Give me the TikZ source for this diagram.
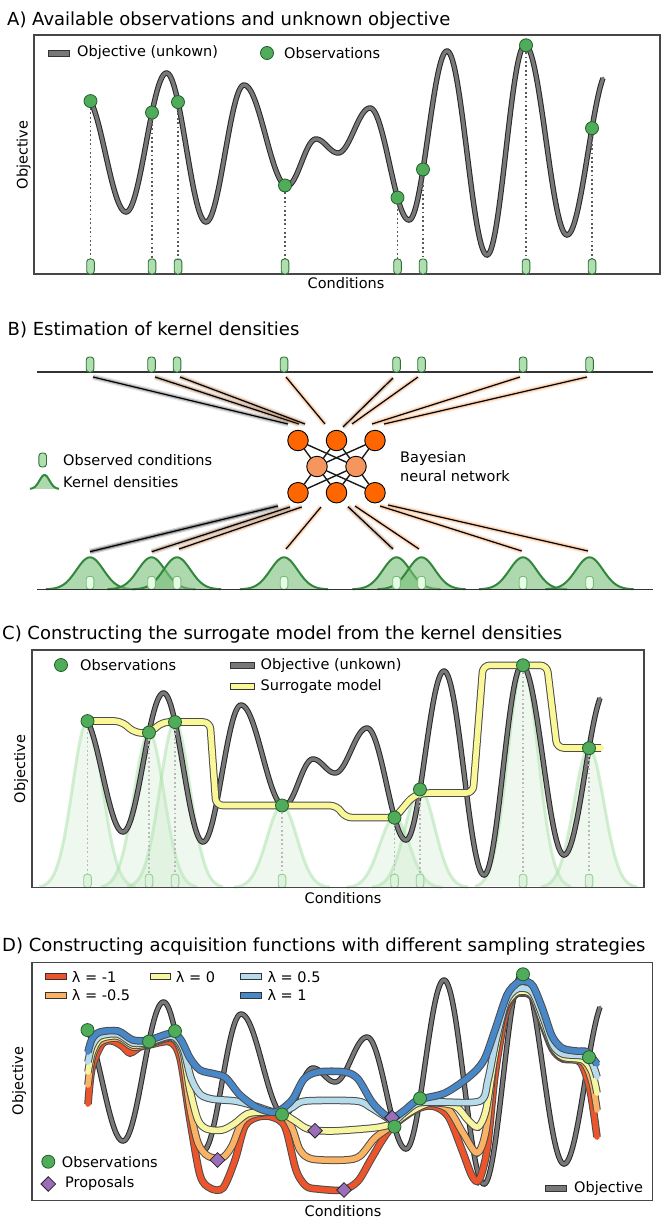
\documentclass[tikz,border=0pt]{standalone}
\usepackage{fontspec}
\setmainfont{DejaVu Sans}
\usetikzlibrary{shapes.geometric}
\definecolor{objgray}{RGB}{120,120,120}
\definecolor{obsgreen}{RGB}{80,172,90}
\definecolor{obsdark}{RGB}{30,95,40}
\definecolor{tickfill}{RGB}{175,222,175}
\definecolor{tickdraw}{RGB}{45,115,55}
\definecolor{kernfill}{RGB}{120,190,120}
\definecolor{kerndraw}{RGB}{50,135,60}
\definecolor{netorange}{RGB}{255,102,0}
\definecolor{netlight}{RGB}{245,150,95}
\definecolor{glowor}{RGB}{245,140,60}
\definecolor{surryellow}{RGB}{250,248,150}
\definecolor{acqred}{RGB}{236,84,44}
\definecolor{acqorange}{RGB}{250,178,100}
\definecolor{acqyellow}{RGB}{246,245,160}
\definecolor{acqlblue}{RGB}{182,220,235}
\definecolor{acqblue}{RGB}{72,136,200}
\definecolor{proppurple}{RGB}{155,110,185}
\definecolor{framegray}{RGB}{70,70,70}
\newcommand{\mytitlefont}{\fontsize{18}{21}\selectfont}
\newcommand{\mylabelfont}{\fontsize{14.5}{17}\selectfont}
\pgfmathdeclarefunction{cosi}{5}{\pgfmathparse{#3+(#5-#3)*(1-cos(((#1-#2)/(#4-#2))*180))/2}}
\pgfmathdeclarefunction{obj}{1}{\pgfmathparse{(#1<126)?cosi(#1,85,96,126,212):((#1<166.5)?cosi(#1,126,212,166.5,73):((#1<206)?cosi(#1,166.5,73,206,222):((#1<244)?cosi(#1,206,222,244,85):((#1<287)?cosi(#1,244,85,287,186):((#1<316)?cosi(#1,287,186,316,139):((#1<338)?cosi(#1,316,139,338,153):((#1<370)?cosi(#1,338,153,370,108):((#1<409)?cosi(#1,370,108,409,220):((#1<447)?cosi(#1,409,220,447,51):((#1<487)?cosi(#1,447,51,487,255):((#1<525)?cosi(#1,487,255,525,45):((#1<567)?cosi(#1,525,45,567,235):cosi(#1,567,235,609,70)))))))))))))}}
\newcommand{\condtick}[4]{\filldraw[#4, rounded corners=3pt] ({#1-3.8},#2) -- ({#1-3.8},{#2-#3}) -- ({#1+3.8},{#2-#3}) -- ({#1+3.8},#2) -- cycle;}
\begin{document}
\begin{tikzpicture}[x=1pt, y=-1pt,
  ttl/.style={font=\mytitlefont, anchor=west, inner sep=0pt},
  lbl/.style={font=\mylabelfont, inner sep=0pt},
  panelframe/.style={draw=framegray, line width=1.1pt},
  obj/.style={draw=objgray, line width=3.4pt, line cap=round, line join=round, preaction={draw=black!85, line width=5.4pt}},
  obs/.style={circle, fill=obsgreen, draw=obsdark, line width=0.8pt, minimum size=13pt, inner sep=0pt},
  prop/.style={diamond, fill=proppurple, draw=black!85, line width=0.8pt, minimum width=15pt, minimum height=15pt, inner sep=0pt},
  tickA/.style={fill=tickfill, draw=tickdraw, line width=0.9pt},
  tickC/.style={fill=tickfill!40, draw=gray!60!green!60, line width=0.9pt},
  tickW/.style={fill=white!90!green, draw=gray!70!green!80, line width=0.9pt},
  dotA/.style={draw=gray!70!black, line width=1.8pt, dash pattern=on 1.8pt off 2.6pt},
  dotC/.style={draw=gray!55, line width=1.8pt, dash pattern=on 1.8pt off 2.6pt},
  swatch/.style={draw=black!80, line width=0.8pt},
  acq/.style={draw=#1, line width=5.6pt, line cap=round, line join=round, preaction={draw=black!70, line width=7.6pt}},
  surr/.style={draw=surryellow, line width=5.6pt, line cap=round, line join=round, rounded corners=7pt, preaction={draw=black!70, line width=7.6pt}},
  nn/.style={circle, minimum size=20.5pt, inner sep=0pt, fill=netorange, draw=black, line width=0.9pt},
  nnl/.style={nn, fill=netlight},
  netline/.style={draw=black!90, line width=1.4pt},
  glow/.style={draw=black, line width=1.2pt, preaction={draw=#1, line width=6pt, opacity=0.15}, preaction={draw=#1, line width=3.5pt, opacity=0.3}},
  kern/.style={fill=kernfill, fill opacity=0.6, draw=kerndraw, line width=2pt},
  kernC/.style={fill=green!40!gray!30, fill opacity=0.3, draw=gray!50!green!45, line width=3pt, draw opacity=0.5}
]
\fill[white] (0,0) rectangle (666,1225);
\useasboundingbox (0,0) rectangle (666,1225);

%% ---------------- Panel A
\node[ttl] (titleA) at (7,21) {A) Available observations and unknown objective};
\draw[panelframe] (34,35) rectangle (660,274);
\draw[swatch, fill=objgray] (48,50) rectangle (69,56);
\node[lbl, anchor=west] (legA1) at (77,53) {Objective (unkown)};
\node[obs] (legA2) at (267,53) {};
\node[lbl, anchor=west] (legA3) at (284,53) {Observations};
\node[lbl, rotate=90] (ylabA) at (23.5,155) {Objective};
\node[lbl] (xlabA) at (346,283) {Conditions};
\foreach \xo [count=\i] in {90.5,152,178,285,397.5,423,526,592} {
  \condtick{\xo}{274}{15}{tickA}
  \coordinate (tA\i) at (\xo,259);
}
\draw[obj] plot[domain=90:603, samples=400] (\x,{obj(\x)});
\foreach \xo [count=\i] in {90.5,152,178,285,397.5,423,526,592} {
  \pgfmathsetmacro\yo{obj(\xo)}
  \node[obs] (oA\i) at (\xo,\yo) {};
  \draw[dotA] (oA\i) -- (tA\i);
}

%% ---------------- Panel B
\node[ttl] (titleB) at (7.5,330) {B) Estimation of kernel densities};
\draw[line width=1.2pt, gray!40!black] (37,372) -- (653,372);
\foreach \c in {90,151.5,177,284,396.5,421.5,523,589.5} {\condtick{\c}{372}{15}{tickA}}
% network
\node[nn] (n1) at (298,440.5) {};
\node[nn] (n2) at (336.5,440.5) {};
\node[nn] (n3) at (375,440.5) {};
\node[nnl] (m1) at (317,466.5) {};
\node[nnl] (m2) at (356,466.5) {};
\node[nn] (b1) at (298,492.7) {};
\node[nn] (b2) at (336.5,492.7) {};
\node[nn] (b3) at (375,492.7) {};
\foreach \t in {n1,n2,n3,b1,b2,b3} {\foreach \m in {m1,m2} {\draw[netline] (\t) -- (\m);}}
\node[lbl, anchor=west, align=left, font=\fontsize{14.5}{19.3}\selectfont] (bnn) at (400,466.5) {Bayesian\\neural network};
% lines top
\foreach \sx/\sy/\ex/\ey/\gc [count=\i] in {93/377/288/424/black!70, 155/377/299/424/glowor!60!black, 180/377/305/424/glowor!70!black, 286/377/325/424/glowor, 393/378/343/427/glowor!80!black, 418/377/352/424/glowor, 520/377/372/424/glowor, 587/377/384/424/glowor} {
  \coordinate (ls\i) at (\sx,\sy);
  \coordinate (le\i) at (\ex,\ey);
  \draw[glow=\gc] (ls\i) -- (le\i);
}
% lines bottom
\foreach \sx/\sy/\ex/\ey/\gc [count=\i] in {278/506/90/551.7/black, 290/507/151.7/551.7/glowor!50!black, 301.7/507/179/549/glowor!80!black, 321/507/286/549/glowor, 348/506.7/393/549/glowor!70!black, 355/506/419/549/glowor, 380/506/521.7/551/glowor, 388/505/588/551/glowor} {
  \coordinate (ms\i) at (\sx,\sy);
  \coordinate (me\i) at (\ex,\ey);
  \draw[glow=\gc] (ms\i) -- (me\i);
}
% legend
\condtick{42.7}{467}{14}{tickA}
\node[lbl, anchor=west] (legB1) at (63,460) {Observed conditions};
\filldraw[kern] plot[domain=30:59, samples=30] (\x,{489-14*exp(-((\x-44.5)*(\x-44.5))/50)});
\node[lbl, anchor=west] (legB2) at (63,482) {Kernel densities};
% kernels
\foreach \c in {90,151.5,177,284,396.5,421.5,523,589.5} {
  \pgfmathsetmacro\da{\c-44}
  \pgfmathsetmacro\db{\c+44}
  \filldraw[kern] plot[domain=\da:\db, samples=60] (\x,{589.3-32*exp(-((\x-\c)*(\x-\c))/365)});
}
\foreach \c in {90,151.5,177,284,396.5,421.5,523,589.5} {\condtick{\c}{589.3}{13}{tickW}}
\draw[line width=1.2pt, gray!40!black] (37,589.3) -- (653,589.3);

%% ---------------- Panel C
\node[ttl] (titleC) at (2,635) {C) Constructing the surrogate model from the kernel densities};
\node[lbl, rotate=90] (ylabC) at (21,769) {Objective};
\node[lbl] (xlabC) at (343,898) {Conditions};
\begin{scope}[shift={(-3,620)}]
\foreach \xo [count=\i] in {90.5,152,178,285,397.5,423,526,592} {
  \pgfmathsetmacro\yo{obj(\xo)}
  \pgfmathsetmacro\hh{267.7-\yo}
  \pgfmathsetmacro\da{\xo-48}
  \pgfmathsetmacro\db{\xo+48}
  \filldraw[kernC] plot[domain=\da:\db, samples=60] (\x,{267.7-\hh*exp(-((\x-\xo)*(\x-\xo))/450)});
}
\foreach \xo [count=\i] in {90.5,152,178,285,397.5,423,526,592} {
  \condtick{\xo}{267.7}{13.5}{tickC}
  \coordinate (tC\i) at (\xo,254);
}
\draw[obj] plot[domain=90:603, samples=400] (\x,{obj(\x)});
\draw[surr] (90.5,101) -- (124,101) -- (138,113) -- (153,113) -- (165,102) -- (213,102) -- (219,185.5) -- (340,185.5) -- (348,197.6) -- (398,197.6) -- (416,176) -- (426,173) -- (476,173) -- (486,45.3) -- (550,45.3) -- (560,128) -- (604,128);
\foreach \xo [count=\i] in {90.5,152,178,285,397.5,423,526,592} {
  \pgfmathsetmacro\yo{obj(\xo)}
  \node[obs] (oC\i) at (\xo,\yo) {};
  \draw[dotC] (oC\i) -- (tC\i);
}
\end{scope}
\draw[panelframe] (32,650) rectangle (644,887.7);
\node[obs] (legC1) at (61,665) {};
\node[lbl, anchor=west] (legC2) at (80,665) {Observations};
\draw[swatch, fill=objgray] (230.6,662) rectangle (254,668);
\node[lbl, anchor=west] (legC3) at (260.5,665) {Objective (unkown)};
\draw[swatch, fill=surryellow] (230.6,683.7) rectangle (254,689.7);
\node[lbl, anchor=west] (legC4) at (260.5,686.7) {Surrogate model};

%% ---------------- Panel D
\node[ttl] (titleD) at (2,946.7) {D) Constructing acquisition functions with different sampling strategies};
\node[lbl, rotate=90] (ylabD) at (19,1081) {Objective};
\node[lbl] (xlabD) at (343,1211) {Conditions};
\draw[panelframe] (32,962.7) rectangle (652.7,1200.7);
\begin{scope}[shift={(-3,929)}]
\draw[obj] plot[domain=90:603, samples=400] (\x,{obj(\x)});
\end{scope}
\draw[acq=acqred] plot[smooth, tension=0.5] coordinates {(88,1104) (92,1068) (102,1044) (112,1041) (122,1046) (130,1053) (140,1047) (149,1045) (170,1042) (180,1058) (190,1120) (200,1175) (210,1188) (223,1188) (235,1160) (245,1126) (258,1117) (272,1117) (285,1127) (296,1170) (306,1186) (318,1189) (343,1190) (358,1181) (370,1161) (383,1139) (394,1125) (415,1110) (432,1106) (448,1116) (462,1150) (472,1176) (479,1180) (487,1150) (495,1075) (505,1016) (514,996) (523,993) (533,998) (544,1028) (553,1050) (563,1059) (580,1062) (590,1090) (597,1137)};
\draw[acq=acqorange] plot[smooth, tension=0.5] coordinates {(88,1085) (92,1058) (100,1042) (118,1038) (133,1047) (149,1044) (172,1038) (182,1055) (190,1108) (198,1143) (208,1156) (222,1158) (232,1146) (242,1122) (255,1114) (281,1113) (292,1128) (300,1150) (312,1159) (345,1160) (360,1156) (375,1138) (394,1124) (410,1108) (428,1103) (448,1109) (463,1133) (477,1153) (486,1130) (494,1060) (504,1012) (514,995) (523,992) (533,997) (544,1026) (553,1048) (563,1058) (583,1062) (592,1082) (597,1110)};
\draw[acq=acqyellow] plot[smooth, tension=0.5] coordinates {(88,1072) (92,1053) (100,1039) (118,1036) (133,1045) (149,1043) (172,1037) (183,1052) (190,1090) (198,1120) (207,1129) (222,1130) (234,1124) (247,1114) (262,1112) (281,1113) (295,1121) (308,1129) (330,1131) (362,1129) (380,1127) (394,1123) (410,1112) (430,1103) (455,1106) (468,1120) (478,1127) (486,1110) (494,1060) (504,1010) (514,994) (523,991) (533,996) (544,1025) (553,1047) (563,1057) (583,1060) (592,1072) (597,1093)};
\draw[acq=acqlblue] plot[smooth, tension=0.5] coordinates {(88,1062) (92,1046) (100,1036) (118,1034) (133,1043) (149,1042) (172,1036) (183,1048) (191,1078) (200,1094) (212,1099) (235,1101) (255,1106) (270,1111) (281,1113) (293,1107) (306,1101) (356,1101) (370,1107) (386,1117) (394,1121) (405,1112) (418,1103) (440,1102) (480,1101) (488,1080) (496,1040) (506,1002) (515,990) (523,988) (533,993) (544,1020) (553,1045) (563,1054) (583,1056) (592,1063) (597,1077)};
\draw[acq=acqblue] plot[smooth, tension=0.5] coordinates {(88,1052) (92,1039) (100,1032) (118,1031) (133,1040) (149,1040) (172,1033) (181,1040) (190,1058) (200,1070) (215,1074) (226,1078) (240,1095) (258,1108) (276,1112) (292,1100) (304,1079) (318,1072) (345,1072) (358,1079) (372,1102) (385,1115) (393,1118) (405,1110) (418,1100) (445,1093) (470,1076) (484,1060) (495,1030) (507,995) (517,983) (524,981) (533,986) (543,1010) (552,1036) (562,1048) (576,1051) (587,1052) (597,1064)};
\node[prop] (p1) at (217.5,1160) {};
\node[prop] (p2) at (315,1130.7) {};
\node[prop] (p3) at (344,1190) {};
\node[prop] (p4) at (392,1117.5) {};
\begin{scope}[shift={(-3,929)}]
\foreach \xo [count=\i] in {90.5,152,178,285,397.5,423,526,592} {
  \pgfmathsetmacro\yo{obj(\xo)}
  \node[obs] (oD\i) at (\xo,\yo) {};
}
\end{scope}
% legend D
\draw[swatch, fill=acqred] (45,973.7) rectangle (66,979.7);
\node[lbl, anchor=west] (ld1) at (71.7,976.7) {λ = -1};
\draw[swatch, fill=acqyellow] (150,973.7) rectangle (170,979.7);
\node[lbl, anchor=west] (ld2) at (175.7,976.7) {λ = 0};
\draw[swatch, fill=acqlblue] (240.7,973.7) rectangle (261.7,979.7);
\node[lbl, anchor=west] (ld3) at (267.3,976.7) {λ = 0.5};
\draw[swatch, fill=acqorange] (45,992) rectangle (66,998);
\node[lbl, anchor=west] (ld4) at (71.7,995) {λ = -0.5};
\draw[swatch, fill=acqblue] (240.7,992) rectangle (261.7,998);
\node[lbl, anchor=west] (ld5) at (267.3,995) {λ = 1};
\node[obs] (ld6) at (48.3,1161.7) {};
\node[lbl, anchor=west] (ld7) at (61.7,1161.7) {Observations};
\node[prop] (ld8) at (48.3,1184) {};
\node[lbl, anchor=west] (ld9) at (65,1183) {Proposals};
\draw[swatch, fill=objgray] (545,1185.3) rectangle (566.7,1191.3);
\node[lbl, anchor=west] (ld10) at (574,1188.3) {Objective};
\end{tikzpicture}
\end{document}
